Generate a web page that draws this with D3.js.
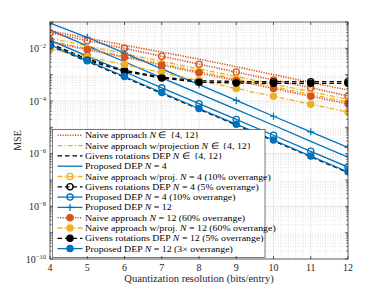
<!DOCTYPE html>
<html>
<head>
<meta charset="utf-8">
<script src="https://cdn.jsdelivr.net/npm/d3@7"></script>
<style>
  body { margin: 0; background: #fff; }
  svg { display: block; font-family: "Liberation Serif", "Times New Roman", serif; }
</style>
</head>
<body>
<div id="graph"></div>
<script>
// quantization resolution (bits/entry)
var bits = [4, 5, 6, 7, 8, 9, 10, 11, 12];
var xTicks = [4, 5, 6, 7, 8, 9, 10, 11, 12];
var yTickExp = [-10, -8, -6, -4, -2];

// MSE
var naivePlain   = [4.6e-2, 2.45e-2, 1.32e-2, 7.2e-3, 3.9e-3, 2.0e-3, 1.0e-3, 5.1e-4, 2.6e-4];
var projPlain    = [2.4e-2, 1.23e-2, 6.3e-3, 3.2e-3, 1.66e-3, 8.5e-4, 4.4e-4, 2.24e-4, 1.15e-4];
var givensPlain  = [1.26e-2, 3.2e-3, 7.9e-4, 1.95e-4, 4.9e-5, 1.23e-5, 3.1e-6, 7.6e-7, 1.9e-7];
var propN4       = [4.9e-2, 1.23e-2, 3.09e-3, 7.6e-4, 1.9e-4, 4.8e-5, 1.2e-5, 2.95e-6, 7.4e-7];
var naiveN4      = [3.9e-2, 1.95e-2, 1.0e-2, 5.0e-3, 2.5e-3, 1.26e-3, 6.3e-4, 3.2e-4, 1.55e-4];
var projN4       = [1.9e-2, 9.8e-3, 5.0e-3, 2.57e-3, 1.32e-3, 6.8e-4, 3.5e-4, 1.78e-4, 9.1e-5];
var givensN4     = [1.51e-2, 4.0e-3, 1.48e-3, 8.0e-4, 5.9e-4, 5.5e-4, 5.4e-4, 5.4e-4, 5.4e-4];
var propN4ovr    = [2.04e-2, 5.1e-3, 1.29e-3, 3.16e-4, 7.9e-5, 2.0e-5, 5.0e-6, 1.23e-6, 3.1e-7];
var propN12      = [9.1e-2, 2.63e-2, 6.61e-3, 1.66e-3, 4.17e-4, 1.05e-4, 2.63e-5, 6.76e-6, 1.74e-6];
var naiveN12     = [1.78e-2, 8.9e-3, 4.6e-3, 2.3e-3, 1.17e-3, 5.9e-4, 3.0e-4, 1.51e-4, 7.8e-5];
var projN12      = [9.5e-3, 4.8e-3, 2.4e-3, 1.2e-3, 6.0e-4, 3.0e-4, 1.5e-4, 7.6e-5, 3.8e-5];
var givensN12    = [1.38e-2, 3.55e-3, 1.32e-3, 7.4e-4, 5.2e-4, 4.8e-4, 4.7e-4, 4.7e-4, 4.7e-4];
var propN12ovr   = [1.35e-2, 3.4e-3, 8.5e-4, 2.1e-4, 5.2e-5, 1.32e-5, 3.3e-6, 8.1e-7, 2.04e-7];

var orange = "#D95319", yellow = "#EDB120", blue = "#0072BD", black = "#000";
var dotted = "1.2,1.3", dashdot = "5,2,1.2,2", dashed = "4.5,3";

// styles per curve; legend entries marked with label
var series = [
  { v: naivePlain,  c: orange, dash: dotted,  w: 1.6, label: "Naive approach |N| ∈ {4, 12}" },
  { v: projPlain,   c: yellow, dash: dashdot, w: 1.3, label: "Naive approach w/projection |N| ∈ {4, 12}" },
  { v: givensPlain, c: black,  dash: dashed,  w: 1.3, label: "Givens rotations DEP |N| ∈ {4, 12}" },
  { v: propN4,      c: blue,   dash: null,    w: 1.3, label: "Proposed DEP |N| = 4" },
  { v: naiveN4,     c: orange, dash: dotted,  w: 1.6, m: "open" },
  { v: projN4,      c: yellow, dash: dashdot, w: 1.3, m: "open", label: "Naive approach w/proj. |N| = 4 (10% overrange)" },
  { v: givensN4,    c: black,  dash: dashed,  w: 1.3, m: "open", label: "Givens rotations DEP |N| = 4 (5% overrange)" },
  { v: propN4ovr,   c: blue,   dash: null,    w: 1.3, m: "open", label: "Proposed DEP |N| = 4 (10% overrange)" },
  { v: propN12,     c: blue,   dash: null,    w: 1.3, m: "plus", label: "Proposed DEP |N| = 12" },
  { v: naiveN12,    c: orange, dash: dotted,  w: 1.6, m: "fill", label: "Naive approach |N| = 12 (60% overrange)" },
  { v: projN12,     c: yellow, dash: dashdot, w: 1.3, m: "fill", label: "Naive approach w/proj. |N| = 12 (60% overrange)" },
  { v: givensN12,   c: black,  dash: dashed,  w: 1.3, m: "fill", label: "Givens rotations DEP |N| = 12 (5% overrange)" },
  { v: propN12ovr,  c: blue,   dash: null,    w: 1.3, m: "fill", label: "Proposed DEP |N| = 12 (3× overrange)" }
];

var W = 385, H = 289,
  L = 50, R = 348, T = 22, B = 259,
  axisCol = "#262626";

var x = d3.scaleLinear().domain([4, 12]).range([L, R]);
var y = d3.scaleLog().domain([1e-10, 1e-1]).range([B, T]);

var svg = d3.select("#graph").append("svg").attr("width", W).attr("height", H);

svg.append("clipPath").attr("id", "clip")
  .append("rect").attr("x", L).attr("y", T).attr("width", R - L).attr("height", B - T);

// grid
var grid = svg.append("g");
var xMinor = d3.range(4, 12.001, 0.2).filter(function(d) { return Math.abs(d - Math.round(d)) > 0.01; });
var yMinor = [];
d3.range(-10, -1).forEach(function(e) {
  d3.range(2, 10).forEach(function(k) { yMinor.push(k * Math.pow(10, e)); });
});
grid.selectAll(".xm").data(xMinor).enter().append("line")
  .attr("x1", x).attr("x2", x).attr("y1", T).attr("y2", B)
  .attr("stroke", "#d6d6d6").attr("stroke-width", 0.6).attr("stroke-dasharray", "1,1.5");
grid.selectAll(".ym").data(yMinor).enter().append("line")
  .attr("x1", L).attr("x2", R).attr("y1", y).attr("y2", y)
  .attr("stroke", "#d6d6d6").attr("stroke-width", 0.6).attr("stroke-dasharray", "1,1.5");
grid.selectAll(".xg").data(xTicks).enter().append("line")
  .attr("x1", x).attr("x2", x).attr("y1", T).attr("y2", B)
  .attr("stroke", "#e0e0e0").attr("stroke-width", 0.7);
grid.selectAll(".yg").data(yTickExp).enter().append("line")
  .attr("x1", L).attr("x2", R)
  .attr("y1", function(e) { return y(Math.pow(10, e)); })
  .attr("y2", function(e) { return y(Math.pow(10, e)); })
  .attr("stroke", "#e0e0e0").attr("stroke-width", 0.7);

// curves
var line = d3.line().x(function(d, i) { return x(bits[i]); }).y(function(d) { return y(d); });
var plot = svg.append("g").attr("clip-path", "url(#clip)");

function marker(g, kind, c, px, py) {
  if (kind === "plus") {
    g.append("path").attr("d", "M" + (px - 3.5) + "," + py + "h7M" + px + "," + (py - 3.5) + "v7")
      .attr("stroke", c).attr("stroke-width", 1.2).attr("fill", "none");
  } else {
    g.append("circle").attr("cx", px).attr("cy", py).attr("r", 3.1)
      .attr("fill", kind === "fill" ? c : "none").attr("stroke", c).attr("stroke-width", 1.3);
  }
}

series.forEach(function(s) {
  plot.append("path").datum(s.v).attr("d", line)
    .attr("fill", "none").attr("stroke", s.c).attr("stroke-width", s.w)
    .attr("stroke-dasharray", s.dash);
});
series.forEach(function(s) {
  if (!s.m) return;
  s.v.forEach(function(d, i) { marker(plot, s.m, s.c, x(bits[i]), y(d)); });
});

// legend
var leg = svg.append("g");
var entries = series.filter(function(s) { return s.label; });
var lx = 52.5, ly = 129.5, rowH = 10.3;
leg.append("rect").attr("x", lx).attr("y", ly).attr("width", 212.5).attr("height", 128)
  .attr("fill", "#fff").attr("stroke", axisCol).attr("stroke-width", 0.6);
entries.forEach(function(s, i) {
  var cy = ly + 5.8 + i * rowH;
  leg.append("line").attr("x1", lx + 5).attr("x2", lx + 30).attr("y1", cy).attr("y2", cy)
    .attr("stroke", s.c).attr("stroke-width", s.w).attr("stroke-dasharray", s.dash);
  if (s.m) marker(leg, s.m, s.c, lx + 17.5, cy);
  // times glyphs widened a bit to take the room of the LaTeX font
  var t = leg.append("text")
    .attr("transform", "translate(" + (lx + 32.5) + "," + (cy + 3) + ") scale(1.07,1)")
    .attr("font-size", 9.2).attr("fill", "#000");
  s.label.split("|").forEach(function(part, j) {
    t.append("tspan").text(part).attr("font-style", j % 2 ? "italic" : null);
  });
});

// axes box and ticks
var ax = svg.append("g").attr("stroke", axisCol).attr("stroke-width", 0.7);
ax.append("rect").attr("x", L).attr("y", T).attr("width", R - L).attr("height", B - T).attr("fill", "none");
xTicks.forEach(function(d) {
  ax.append("line").attr("x1", x(d)).attr("x2", x(d)).attr("y1", B).attr("y2", B - 3);
  ax.append("line").attr("x1", x(d)).attr("x2", x(d)).attr("y1", T).attr("y2", T + 3);
});
yTickExp.concat([-9, -7, -5, -3, -1]).forEach(function(e) {
  var py = y(Math.pow(10, e));
  ax.append("line").attr("x1", L).attr("x2", L + 3).attr("y1", py).attr("y2", py);
  ax.append("line").attr("x1", R).attr("x2", R - 3).attr("y1", py).attr("y2", py);
});
yMinor.forEach(function(d) {
  ax.append("line").attr("x1", L).attr("x2", L + 1.6).attr("y1", y(d)).attr("y2", y(d));
  ax.append("line").attr("x1", R).attr("x2", R - 1.6).attr("y1", y(d)).attr("y2", y(d));
});

svg.selectAll(".xl").data(xTicks).enter().append("text")
  .attr("x", x).attr("y", 271).attr("text-anchor", "middle")
  .attr("font-size", 10).attr("fill", axisCol).text(function(d) { return d; });

yTickExp.forEach(function(e) {
  var t = svg.append("text").attr("x", 46).attr("y", y(Math.pow(10, e)) + 3.5)
    .attr("text-anchor", "end").attr("font-size", 10).attr("fill", axisCol);
  t.append("tspan").text("10");
  t.append("tspan").attr("dy", -4).attr("font-size", 6.5).text("−" + (-e));
});

svg.append("text")
  .attr("transform", "translate(" + ((L + R) / 2) + ",282) scale(1.06,1)")
  .attr("text-anchor", "middle")
  .attr("font-size", 10).attr("fill", axisCol).text("Quantization resolution (bits/entry)");
svg.append("text").attr("transform", "translate(21," + ((T + B) / 2) + ") rotate(-90)")
  .attr("text-anchor", "middle").attr("font-size", 10).attr("fill", axisCol).text("MSE");
</script>
</body>
</html>
